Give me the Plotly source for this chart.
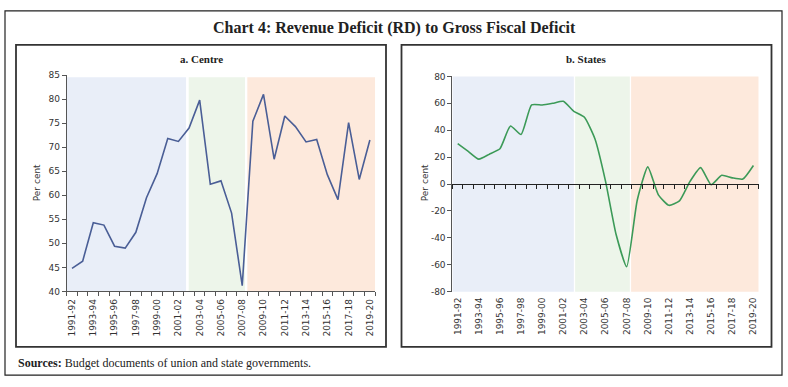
import plotly.graph_objects as go

years = ['1991-92', '1992-93', '1993-94', '1994-95', '1995-96', '1996-97', '1997-98',
         '1998-99', '1999-00', '2000-01', '2001-02', '2002-03', '2003-04', '2004-05',
         '2005-06', '2006-07', '2007-08', '2008-09', '2009-10', '2010-11', '2011-12',
         '2012-13', '2013-14', '2014-15', '2015-16', '2016-17', '2017-18', '2018-19',
         '2019-20']
centre = [44.8, 46.3, 54.3, 53.8, 49.4, 49.0, 52.3, 59.5, 64.5, 71.8, 71.2, 74.0, 79.8,
          62.3, 63.0, 56.3, 41.2, 75.4, 81.0, 67.5, 76.5, 74.3, 71.1, 71.6, 64.3, 59.1,
          75.1, 63.3, 71.5]
states = [30.0, 24.3, 18.5, 22.2, 26.2, 43.2, 36.8, 58.8, 58.8, 60.0, 61.5, 54.0, 49.6,
          33.5, 2.0, -37.5, -61.5, -12.0, 12.8, -8.0, -15.8, -12.5, 2.0, 12.2, -0.5, 6.5,
          4.6, 3.7, 13.8]
states_ticks = [-80, -60, -40, -20, 0, 20, 40, 60, 80]
states_tick_text = ['-80', '-60', '-40', '-20', '0', '20', '40', '60', '80']

# period shading (category-index spans)
centre_periods = [(-0.5, 10.72), (10.97, 16.26), (16.48, 28.5)]
states_periods = [(-0.5, 11.0), (11.12, 16.3), (16.42, 28.5)]
period_colors = ['#E9EEF8', '#EDF5EA', '#FDE9DC']

idx = list(range(len(years)))
W, H = 788, 387


def px(x):
    return x / W


def py(y):
    return 1 - y / H


fig = go.Figure()
fig.add_trace(go.Scatter(x=idx, y=centre, mode='lines', line=dict(color='#4A5E96', width=1.6),
                         xaxis='x', yaxis='y', showlegend=False, hoverinfo='skip'))
fig.add_trace(go.Scatter(x=idx, y=states, mode='lines', line=dict(color='#3C9A58', width=1.6,
                         shape='spline', smoothing=0.5),
                         xaxis='x2', yaxis='y2', showlegend=False))
# carrier trace so the zero-line axis (x3) is drawn
fig.add_trace(go.Scatter(x=idx, y=states, mode='lines', line=dict(width=0), opacity=0,
                         xaxis='x3', yaxis='y2', showlegend=False, hoverinfo='skip'))

tickfont = dict(family='DejaVu Sans', size=9, color='#333333')
even = idx[::2]
even_lab = years[::2]

fig.update_layout(
    width=W, height=H, margin=dict(l=0, r=0, t=0, b=0),
    paper_bgcolor='white', plot_bgcolor='rgba(0,0,0,0)',
    xaxis=dict(domain=[px(66.7), px(375.2)], range=[-0.5, 28.5], anchor='y',
               tickvals=even, ticktext=even_lab, tickangle=-90, ticks='',
               showline=True, linecolor='#555555', linewidth=1, showgrid=False, zeroline=False,
               tickfont=tickfont, ticklabelstandoff=3,
               minor=dict(tick0=-0.5, dtick=1, ticks='outside', ticklen=4, tickcolor='#555555')),
    yaxis=dict(domain=[py(294), py(72)], range=[40, 85], dtick=5, anchor='x',
               ticks='outside', ticklen=4, tickcolor='#555555', showline=True,
               linecolor='#555555', showgrid=False, zeroline=False, tickfont=tickfont),
    xaxis2=dict(domain=[px(452.4), px(758.7)], range=[-0.5, 28.5], anchor='y2',
                tickvals=even, ticktext=even_lab, tickangle=-90, ticks='',
                showline=False, showgrid=False, zeroline=False, tickfont=tickfont,
                ticklabelstandoff=3),
    xaxis3=dict(domain=[px(452.4), px(758.7)], range=[-0.5, 28.5], overlaying='x2',
                anchor='free', position=(py(294.3) + py(73.3)) / 2,
                showticklabels=False, ticks='', showline=True, linecolor='#222222',
                linewidth=1.2, showgrid=False, zeroline=False,
                minor=dict(tick0=-0.5, dtick=1, ticks='outside', ticklen=4, tickcolor='#222222')),
    yaxis2=dict(domain=[py(294.3), py(73.3)], range=[-80, 80], anchor='x2',
                tickvals=states_ticks, ticktext=states_tick_text,
                ticks='outside', ticklen=4, tickcolor='#555555', showline=True,
                linecolor='#555555', showgrid=False, zeroline=False, tickfont=tickfont),
)

shapes = []
for (a, b), c in zip(centre_periods, period_colors):
    shapes.append(dict(type='rect', xref='x', yref='y domain', x0=a, x1=b, y0=0, y1=0.99,
                       fillcolor=c, line=dict(width=0), layer='below'))
for (a, b), c in zip(states_periods, period_colors):
    shapes.append(dict(type='rect', xref='x2', yref='y2 domain', x0=a, x1=b, y0=0, y1=1,
                       fillcolor=c, line=dict(width=0), layer='below'))
# outer frame and panel frames
shapes.append(dict(type='rect', xref='paper', yref='paper', x0=px(5), x1=px(782), y0=py(380), y1=py(6),
                   line=dict(color='#222222', width=1.2)))
shapes.append(dict(type='rect', xref='paper', yref='paper', x0=px(16), x1=px(386), y0=py(351), y1=py(41),
                   line=dict(color='#333333', width=1.8)))
shapes.append(dict(type='rect', xref='paper', yref='paper', x0=px(401.5), x1=px(771.5), y0=py(351), y1=py(41),
                   line=dict(color='#333333', width=1.8)))
fig.update_layout(shapes=shapes)

serif = 'Liberation Serif'
ann = [
    dict(text='<b>Chart 4: Revenue Deficit (RD) to Gross Fiscal Deficit</b>', x=px(394), y=py(24),
         font=dict(family=serif, size=16, color='#222222')),
    dict(text='<b>a. Centre</b>', x=px(201), y=py(55), font=dict(family=serif, size=11, color='#222222')),
    dict(text='<b>b. States</b>', x=px(586), y=py(55), font=dict(family=serif, size=11, color='#222222')),
    dict(text='Per cent', x=px(37), y=py(183), textangle=-90,
         font=dict(family='DejaVu Sans', size=9, color='#333333')),
    dict(text='Per cent', x=px(425), y=py(183), textangle=-90,
         font=dict(family='DejaVu Sans', size=9, color='#333333')),
    dict(text='<b>Sources:</b> Budget documents of union and state governments.', x=px(16), y=py(367),
         xanchor='left', font=dict(family=serif, size=12, color='#222222')),
]
for a in ann:
    a.setdefault('xanchor', 'center')
    fig.add_annotation(xref='paper', yref='paper', showarrow=False, yanchor='middle', **a)

fig.write_html('out.html', config={'displayModeBar': False},
               post_script="document.body.style.margin='0';document.body.style.overflow='hidden';")
